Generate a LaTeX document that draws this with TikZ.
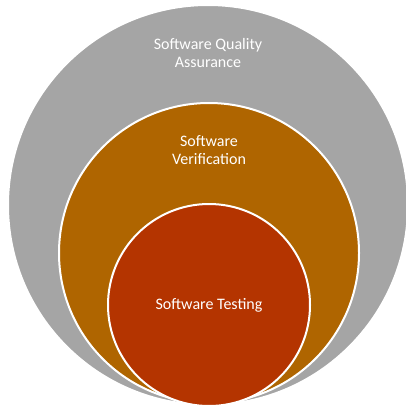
\documentclass[tikz,border=0pt]{standalone}
\usepackage{fontspec}
\setmainfont{Carlito}
\definecolor{sqa}{RGB}{165,165,165}
\definecolor{sver}{RGB}{175,101,0}
\definecolor{stest}{RGB}{180,52,0}
\begin{document}
\begin{tikzpicture}[x=1pt,y=-1pt,
  ring/.style={circle,draw=white,line width=2pt,inner sep=0pt},
  lbl/.style={text=white,font=\fontsize{16}{18}\selectfont,align=center}]
\useasboundingbox[fill=white] (0,0) rectangle (406,406);
\node[ring,fill=sqa,minimum size=400pt] (outer) at (208,205) {};
\node[ring,fill=sver,minimum size=300pt] (middle) at (209,253) {};
\node[ring,fill=stest,minimum size=202pt] (inner) at (209,305) {};
\node[lbl] (t1) at (208,53) {Software Quality\\Assurance};
\node[lbl] (t2) at (209,150) {Software\\Verification};
\node[lbl] (t3) at (209,305) {Software Testing};
\end{tikzpicture}
\end{document}
